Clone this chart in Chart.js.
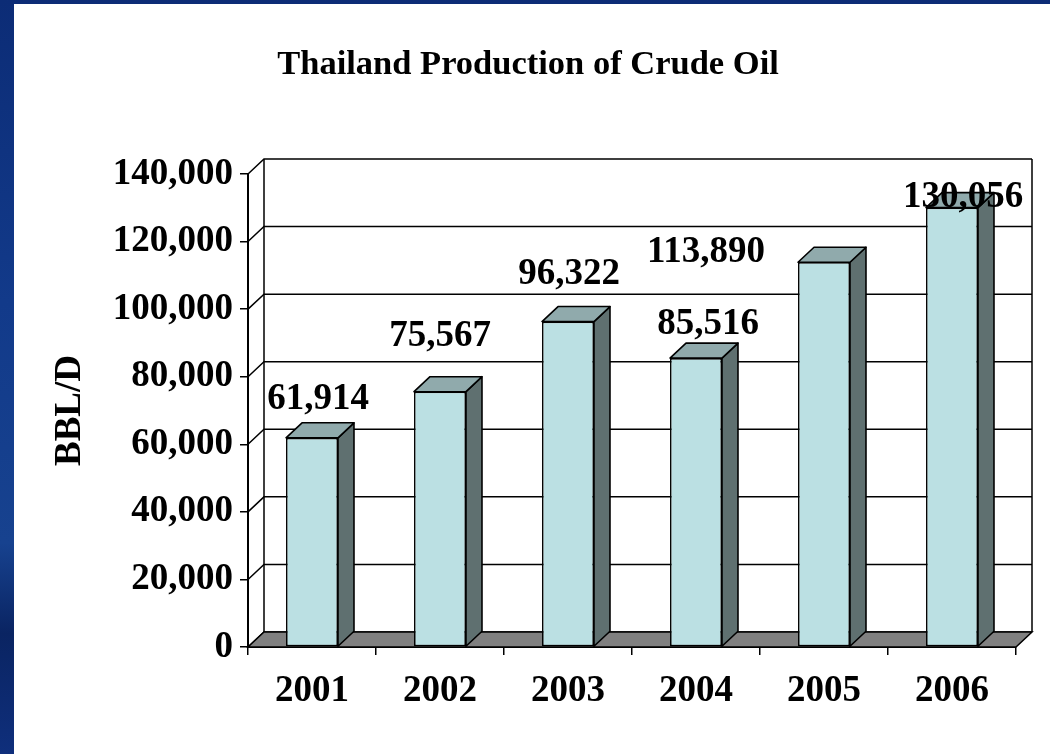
<!DOCTYPE html>
<html>
<head>
<meta charset="utf-8">
<title>Thailand Production of Crude Oil</title>
<script src="https://cdn.jsdelivr.net/npm/chart.js@4.4.1/dist/chart.umd.min.js"></script>
<style>
    html, body { margin: 0; padding: 0; }
    body {
        width: 1050px; height: 754px; overflow: hidden; position: relative;
        background: linear-gradient(180deg, #0c2c76 0%, #123a8a 40%, #17428f 72%, #0a2462 84%, #0f2f7c 100%);
    }
    #panel { position: absolute; left: 14px; top: 4px; right: 0; bottom: 0; background: #fff; }
    #wrap  { position: absolute; left: 0; top: 0; width: 1050px; height: 754px; }
</style>
</head>
<body>
<div id="panel"></div>
<div id="wrap"><canvas id="grafica-crudo"></canvas></div>
<script>
// ── Data ──────────────────────────────────────────────────────
const years      = ['2001', '2002', '2003', '2004', '2005', '2006'];
const bblPerDay  = [61914, 75567, 96322, 85516, 113890, 130056];
const yTickVals  = [0, 20000, 40000, 60000, 80000, 100000, 120000, 140000];

// ── Look ──────────────────────────────────────────────────────
const FONT   = '"Liberation Serif", "Times New Roman", serif';
const DEPTH  = { dx: 16, dy: -15 };           // 3D offset of the back wall
const COLORS = { front: '#bbe0e3', side: '#5f7070', top: '#90aaac', floor: '#808080' };
// label nudges (px) from the back-top centre of each bar, as placed in the original slide
const labelNudge = [[-2, -25], [-8, -42], [-7, -34], [4, -21], [-126, 3], [3, 3]];

Chart.defaults.font.family = FONT;
Chart.defaults.color = '#000';

// ── 3D box + bar faces + value labels ─────────────────────────
const caja3D = {
    id: 'caja3D',
    beforeDatasetsDraw(chart) {
        const { ctx, chartArea: a, scales: { y } } = chart;
        const { dx, dy } = DEPTH;
        ctx.save();
        ctx.strokeStyle = '#000';
        ctx.lineWidth = 1.5;

        // back wall gridlines + slanted ticks
        y.ticks.forEach(t => {
            const py = y.getPixelForValue(t.value);
            ctx.beginPath();
            ctx.moveTo(a.left, py);
            ctx.lineTo(a.left + dx, py + dy);
            ctx.lineTo(a.right + dx, py + dy);
            ctx.stroke();
        });

        // back wall edges
        ctx.beginPath();
        ctx.moveTo(a.left + dx, a.top + dy);  ctx.lineTo(a.left + dx, a.bottom + dy);
        ctx.moveTo(a.right + dx, a.top + dy); ctx.lineTo(a.right + dx, a.bottom + dy);
        ctx.stroke();

        // floor
        ctx.beginPath();
        ctx.moveTo(a.left, a.bottom);
        ctx.lineTo(a.right, a.bottom);
        ctx.lineTo(a.right + dx, a.bottom + dy);
        ctx.lineTo(a.left + dx, a.bottom + dy);
        ctx.closePath();
        ctx.fillStyle = COLORS.floor;
        ctx.fill();
        ctx.stroke();
        ctx.restore();
    },
    afterDatasetsDraw(chart) {
        const { ctx } = chart;
        const { dx, dy } = DEPTH;
        const meta = chart.getDatasetMeta(0);
        ctx.save();
        ctx.strokeStyle = '#000';
        ctx.lineWidth = 1.6;
        ctx.lineJoin = 'round';

        meta.data.forEach(bar => {
            const { x, y, base, width } = bar.getProps(['x', 'y', 'base', 'width'], true);
            const l = x - width / 2, r = x + width / 2;

            // side face
            ctx.beginPath();
            ctx.moveTo(r, y);
            ctx.lineTo(r + dx, y + dy);
            ctx.lineTo(r + dx, base + dy);
            ctx.lineTo(r, base);
            ctx.closePath();
            ctx.fillStyle = COLORS.side;
            ctx.fill();
            ctx.stroke();

            // top face
            ctx.beginPath();
            ctx.moveTo(l, y);
            ctx.lineTo(l + dx, y + dy);
            ctx.lineTo(r + dx, y + dy);
            ctx.lineTo(r, y);
            ctx.closePath();
            ctx.fillStyle = COLORS.top;
            ctx.fill();
            ctx.stroke();
        });

        // value labels
        ctx.font = `bold 37px ${FONT}`;
        ctx.fillStyle = '#000';
        ctx.textAlign = 'center';
        ctx.textBaseline = 'middle';
        meta.data.forEach((bar, i) => {
            const { x, y } = bar.getProps(['x', 'y'], true);
            const [nx, ny] = labelNudge[i];
            ctx.fillText(bblPerDay[i].toLocaleString('en-US'), x + dx / 2 + nx, y + dy + ny + 2);
        });
        ctx.restore();
    }
};

// ── Chart ─────────────────────────────────────────────────────
new Chart(document.getElementById('grafica-crudo'), {
    type: 'bar',
    data: {
        labels: years,
        datasets: [{
            data: bblPerDay,
            backgroundColor: COLORS.front,
            borderColor: '#000',
            borderWidth: 1.6,
            borderSkipped: false,
            categoryPercentage: 1,
            barPercentage: 0.406
        }]
    },
    options: {
        responsive: true,
        maintainAspectRatio: false,
        animation: false,
        layout: { padding: { top: 0, right: 34, bottom: 0, left: 40 } },
        plugins: {
            legend: { display: false },
            tooltip: { enabled: false },
            title: {
                display: true,
                text: 'Thailand Production of Crude Oil',
                font: { size: 34.5, weight: 'bold', family: FONT },
                color: '#000',
                padding: { top: 44, bottom: 88.6 }
            }
        },
        scales: {
            x: {
                afterFit: s => { s.height = 107; },
                grid: { display: true, drawOnChartArea: false, drawTicks: true, tickLength: 8, color: '#000', lineWidth: 1.5, offset: true },
                border: { display: true, color: '#000', width: 2 },
                ticks: { font: { size: 37, weight: 'bold' }, color: '#000', padding: 14, maxRotation: 0 }
            },
            y: {
                min: 0,
                max: 140000,
                afterFit: s => { s.width = 208; },
                afterBuildTicks: s => { s.ticks = yTickVals.map(v => ({ value: v })); },
                grid: { display: true, drawOnChartArea: false, drawTicks: true, tickLength: 8, color: '#000', lineWidth: 1.5 },
                border: { display: true, color: '#000', width: 2 },
                ticks: {
                    font: { size: 37, weight: 'bold' }, color: '#000', padding: 7,
                    callback: v => v.toLocaleString('en-US')
                },
                title: {
                    display: true,
                    text: 'BBL/D',
                    font: { size: 37, weight: 'bold' },
                    color: '#000',
                    padding: { top: 8, bottom: 0 }
                }
            }
        }
    },
    plugins: [caja3D]
});
</script>
</body>
</html>
